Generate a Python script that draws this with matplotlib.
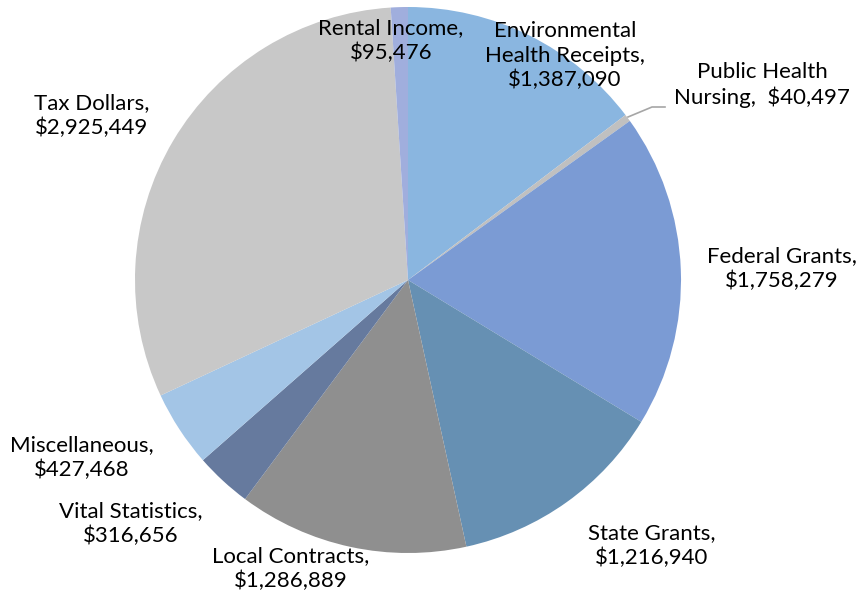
import matplotlib
matplotlib.use("Agg")
import matplotlib.pyplot as plt

categories = ["Environmental\nHealth Receipts,", "Public Health\nNursing, ", "Federal Grants,",
              "State Grants,", "Local Contracts,", "Vital Statistics,", "Miscellaneous,",
              "Tax Dollars,", "Rental Income,"]
values = [1387090, 40497, 1758279, 1216940, 1286889, 316656, 427468, 2925449, 95476]
colors = ["#8AB6E0", "#C0C0C0", "#7B9BD4", "#6690B3", "#8F8F8F", "#667A9E",
          "#A3C5E6", "#C8C8C8", "#A0AEDD"]

label_pos = [(565, 56), (762, 85), (782, 269), (652, 546), (291, 569),
             (131, 524), (82, 458), (92, 116), (391, 41)]

W, H = 860, 598
fig = plt.figure(figsize=(W / 100, H / 100), dpi=100)
ax = fig.add_axes([0, 0, 1, 1])

cx, cy, r = 408, 280, 273
wedges, _ = ax.pie(values, colors=colors, startangle=-90, counterclock=True,
                   center=(cx, cy), radius=r, frame=True,
                   wedgeprops=dict(linewidth=0))
ax.set_xlim(0, W)
ax.set_ylim(H, 0)
ax.set_aspect("equal")
ax.axis("off")

for cat, v, (x, y) in zip(categories, values, label_pos):
    if cat.endswith(", "):
        txt = cat + f" ${v:,}"
    else:
        txt = cat + "\n" + f"${v:,}"
    ax.text(x, y, txt, ha="center", va="center", fontsize=16, family="Lato",
            color="#000000", linespacing=1.27)

ax.plot([628, 652, 665], [117, 107, 107], color="#A6A6A6", lw=1.2)

fig.savefig("out.png", dpi=100)
